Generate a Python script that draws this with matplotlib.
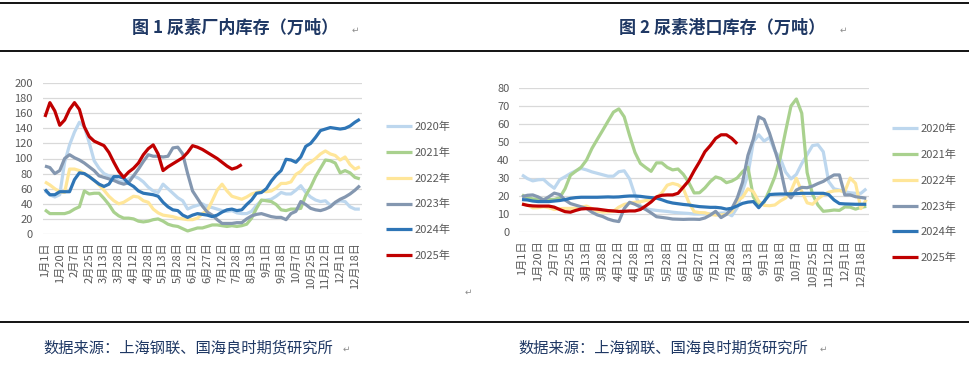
import matplotlib
matplotlib.use('Agg')
import matplotlib.pyplot as plt
from matplotlib.lines import Line2D

plt.rcParams['font.family'] = ['Noto Sans CJK SC', 'DejaVu Sans']

# ---------------- data ----------------
tick_labels = ['1月1日', '1月20日', '2月7日', '2月25日', '3月13日', '3月28日', '4月12日',
               '4月28日', '5月13日', '5月28日', '6月12日', '6月27日', '7月12日', '7月28日',
               '8月13日', '9月1日', '9月18日', '10月7日', '10月25日', '11月12日', '12月1日',
               '12月18日']
years = ['2020年', '2021年', '2022年', '2023年', '2024年', '2025年']

# Figure 1: factory inventory (10k t)
factory_2020 = [57, 52, 49, 52, 95, 118, 135, 148, 142, 121, 97, 87, 80, 77, 75, 70, 69, 73, 77, 74,
                69, 62, 57, 55, 66, 60, 54, 48, 44, 33, 36, 38, 40, 36, 35, 33, 31, 30, 31, 28,
                27, 27, 30, 38, 44, 45, 46, 50, 55, 53, 53, 58, 64, 55, 49, 45, 43, 44, 38, 41,
                44, 43, 36, 33, 33]
factory_2021 = [32, 27, 27, 27, 27, 29, 33, 36, 57, 53, 54, 54, 47, 39, 29, 24, 21, 21, 20, 17,
                16, 17, 19, 20, 17, 13, 11, 10, 7, 4, 6, 8, 8, 10, 12, 12, 11, 10, 11, 10,
                11, 13, 21, 34, 45, 44, 43, 39, 32, 31, 33, 33, 34, 51, 62, 76, 87, 98, 97, 94,
                81, 84, 81, 75, 73]
factory_2022 = [69, 65, 60, 56, 55, 86, 86, 84, 80, 76, 71, 65, 58, 50, 44, 40, 42, 46, 50, 49,
                44, 42, 33, 28, 25, 24, 23, 21, 20, 19, 19, 21, 27, 31, 44, 58, 66, 57, 50, 48,
                46, 49, 53, 55, 57, 56, 57, 61, 67, 67, 69, 79, 83, 91, 95, 100, 106, 110, 106, 104,
                98, 102, 92, 86, 89]
factory_2023 = [90, 88, 80, 84, 100, 105, 101, 98, 94, 89, 84, 77, 75, 73, 71, 68, 66, 68, 77, 86,
                96, 105, 103, 103, 102, 103, 114, 115, 106, 80, 57, 47, 37, 29, 25, 19, 14, 14, 14, 15,
                15, 20, 24, 26, 27, 25, 23, 22, 22, 19, 27, 30, 43, 39, 34, 32, 31, 33, 36, 42,
                46, 49, 53, 58, 64]
factory_2024 = [59, 52, 52, 56, 56, 56, 72, 81, 80, 76, 71, 66, 63, 66, 76, 76, 74, 67, 63, 57,
                54, 53, 52, 50, 42, 36, 32, 31, 25, 22, 25, 27, 26, 25, 23, 25, 29, 32, 33, 31,
                32, 39, 45, 54, 55, 60, 70, 78, 84, 99, 98, 95, 102, 116, 120, 128, 137, 139, 141, 140,
                139, 140, 143, 148, 152]
factory_2025 = [155, 174, 163, 144, 151, 165, 174, 165, 142, 129, 123, 120, 117, 108, 95, 83, 75, 82, 87, 94,
                105, 113, 118, 106, 84, 89, 93, 97, 101, 108, 117, 115, 112, 108, 104, 100, 95, 90, 86, 88,
                92]

# Figure 2: port inventory (10k t)
port_2020 = [31.7, 29.7, 28.4, 29, 29.2, 26.5, 24.3, 29, 30.7, 32.5, 34, 35.3, 34.5, 33.4, 32.6, 31.8,
             31, 31, 33.5, 34, 29.5, 20.5, 14.5, 13, 12.4, 12, 11.7, 11.4, 11, 10.7, 10.5, 10.3,
             10, 10, 10, 10, 10.2, 10.5, 10.6, 9, 13.5, 22.8, 32, 50, 54, 50.5, 52.5, 45,
             41, 33.3, 29.5, 32, 38, 43, 48, 48.5, 44.6, 28, 24, 23.3, 22.4, 21.8, 21.5, 21.5, 24]
port_2021 = [20.6, 19, 18.4, 18.2, 18.1, 18.1, 18.1, 19, 24, 31.5, 33.8, 36, 40, 46.4, 51.5, 56.5,
             61.6, 66.6, 68.4, 64, 53.6, 44.2, 38.1, 35.8, 33.7, 38.4, 38.4, 35.9, 34.5, 35, 32, 27.5,
             21.7, 21.8, 24.5, 28, 30.6, 29.7, 27.4, 28.3, 30, 33.5, 36, 19.5, 15, 16.5, 23.3, 30.7,
             41.3, 56, 70, 73.9, 66, 33, 21, 15, 11.5, 11.8, 12.2, 12, 13.9, 13.8, 12.7, 13.7, 14.2]
port_2022 = [15.6, 15, 13.4, 13.5, 14, 13.5, 12.5, 13, 13.1, 13.1, 13.2, 13.8, 14.4, 13, 11.5, 11.1,
             11.2, 11.5, 13.8, 15.3, 16, 16.5, 16.8, 17.5, 17.9, 19.2, 21.7, 26, 27, 26.2, 24, 16.5,
             11.3, 10.8, 10.7, 9.8, 9.4, 9.5, 9.8, 11.3, 17.4, 19.3, 24, 22.4, 17, 14.8, 14.6, 15,
             17.2, 18.9, 22.8, 29.8, 22.5, 16.2, 15.4, 18.4, 20.6, 22.1, 22.8, 23, 22.4, 30, 27, 13, 18]
port_2023 = [19.6, 20.4, 20.6, 19.5, 17.8, 19.6, 21.6, 20.8, 17.8, 15.8, 14.9, 14, 13.1, 11, 9.5, 8.6,
             7.2, 6.3, 5.8, 13, 16.5, 15.4, 13.9, 12.5, 10.6, 8.5, 8.1, 7.7, 7.2, 7.1, 7, 7.1,
             7.1, 7, 7.8, 9.4, 11.5, 8, 9.8, 13, 18.8, 27.6, 42.6, 51.5, 64, 62.5, 55, 45.6,
             35.6, 22, 19, 23.3, 24.8, 24.6, 25.5, 26.9, 28.1, 30, 31.7, 31.7, 20.6, 20.6, 19.6, 19.2, 18.7]
port_2024 = [18, 17.8, 17.2, 16.9, 16.9, 16.9, 17.2, 17.5, 18, 18.7, 19.1, 19.3, 19.3, 19.3, 19.3, 19.4,
             19.5, 19.4, 19.5, 19.8, 20, 20, 19.8, 19.4, 19.1, 18.8, 17.9, 16.8, 16.1, 15.7, 15.3, 15,
             14.5, 14.1, 13.9, 13.7, 13.7, 13.4, 12.7, 13.2, 14.5, 15.9, 16.6, 16.9, 13.5, 17, 20.8, 21,
             21.1, 21.1, 21.2, 21.3, 21.5, 21.5, 21.5, 21.5, 21.5, 20.8, 17.8, 15.8, 15.6, 15.5, 15.4, 15.4, 15.4]
port_2025 = [15.5, 14.8, 14.5, 14.4, 14.4, 14.4, 13.8, 12.5, 11.3, 11, 12, 12.8, 13, 12.9, 12.7, 12.3,
             11.9, 11.7, 11.4, 11.5, 11.7, 11.7, 12.5, 14.5, 16.7, 19.5, 20.4, 20.6, 20.6, 21.5, 25, 28.5,
             34, 39, 44.6, 48, 52, 54, 54, 52, 49]

colors = ['#BDD7EE', '#A9D18E', '#FFE699', '#8497B0', '#2E75B6', '#C00000']

factory = [factory_2020, factory_2021, factory_2022, factory_2023, factory_2024, factory_2025]
port = [port_2020, port_2021, port_2022, port_2023, port_2024, port_2025]

W, H = 969, 369
fig = plt.figure(figsize=(W / 100, H / 100), dpi=100)

def fx(px):
    return px / W

def fy(py):
    return 1 - py / H

TXT = '#595959'
NAVY = '#1F3864'


def draw_panel(rect, series, ymax, ystep, legend_x, legend_top):
    ax = fig.add_axes(rect)
    handles = []
    for vals, c, lab in zip(series, colors, years):
        h, = ax.plot(range(len(vals)), vals, color=c, lw=2.3, label=lab,
                     solid_joinstyle='round', solid_capstyle='butt')
        handles.append(h)
    n = len(series[0])
    ax.set_xlim(-0.5, n - 0.5)
    ax.set_ylim(0, ymax)
    ax.set_yticks(range(0, ymax + 1, ystep))
    ax.set_xticks(range(0, n, 3))
    ax.set_xticklabels(tick_labels, rotation=90, fontsize=8, color=TXT)
    ax.tick_params(axis='y', labelsize=8, labelcolor=TXT, length=0, pad=7)
    ax.tick_params(axis='x', length=0, pad=6)
    for s in ax.spines.values():
        s.set_visible(False)
    ax.grid(axis='y', color='#D9D9D9', lw=0.9)
    ax.set_axisbelow(True)
    fig.legend(handles=handles, loc='upper left',
               bbox_to_anchor=(fx(legend_x), fy(legend_top)),
               frameon=False, fontsize=8, labelcolor=TXT,
               handlelength=2.3, handletextpad=0.25, labelspacing=1.38,
               borderpad=0, borderaxespad=0)
    return ax

# left panel: factory inventory
draw_panel([fx(42.5), fy(234), fx(319.8), 151 / H], factory, 200, 20, 386, 122)
# right panel: port inventory
draw_panel([fx(519.3), fy(232), fx(349.7), 144 / H], port, 80, 10, 892, 124)

# horizontal rules of the document table
for py in (3, 51, 322):
    fig.add_artist(Line2D([0, 1], [fy(py), fy(py)], transform=fig.transFigure,
                          color='black', lw=1.3))

# titles
fig.text(fx(235), fy(28), '图 1 尿素厂内库存（万吨）', ha='center', va='center',
         fontsize=12.3, fontweight='bold', color=NAVY)
fig.text(fx(722), fy(28), '图 2 尿素港口库存（万吨）', ha='center', va='center',
         fontsize=12.3, fontweight='bold', color=NAVY)

# sources
src = '数据来源：上海钢联、国海良时期货研究所'
fig.text(fx(43), fy(348), src, ha='left', va='center', fontsize=11, color=NAVY)
fig.text(fx(518), fy(348), src, ha='left', va='center', fontsize=11, color=NAVY)

# paragraph marks
for (px, py) in ((355, 30), (843, 30), (468, 292), (346, 349), (823, 349)):
    fig.text(fx(px), fy(py), '↵', ha='center', va='center', fontsize=6.5,
             color='#8C8C8C', family=['DejaVu Sans'])

fig.savefig('out.png', dpi=100)
